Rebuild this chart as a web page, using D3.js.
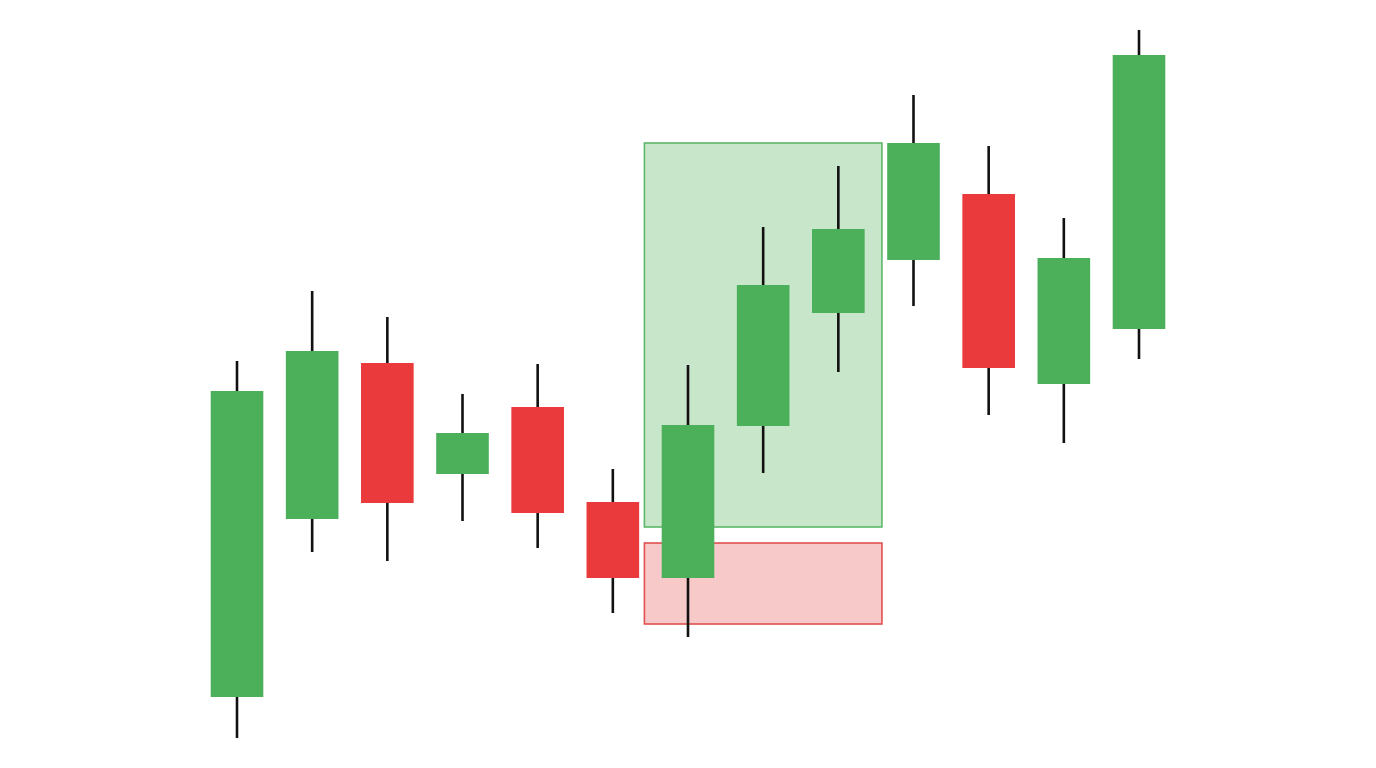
<!DOCTYPE html>
<html>
<head>
<meta charset="utf-8">
<script src="https://cdn.jsdelivr.net/npm/d3@7"></script>
<style>
  html, body { margin: 0; padding: 0; background: #fff; }
  svg { display: block; }
</style>
</head>
<body>
<svg id="chart"></svg>
<script>
// candle data
const bars = ['1', '2', '3', '4', '5', '6', '7', '8', '9', '10', '11', '12', '13']
const opens  = [107.1, 124.9, 140.5, 129.4, 136.1, 126.6, 119.0, 134.2, 145.5, 150.8, 157.4, 138.4, 143.9]
const highs  = [140.7, 147.7, 145.1, 137.4, 140.4, 129.9, 140.3, 154.1, 160.2, 167.3, 162.2, 155.0, 173.8]
const lows   = [103.0, 121.6, 120.7, 124.7, 122.0, 115.5, 113.1, 129.5, 139.6, 146.2, 135.3, 132.5, 140.9]
const closes = [137.7, 141.7, 126.5, 133.5, 125.5, 119.0, 134.3, 148.3, 153.9, 162.5, 140.0, 151.0, 171.3]

// highlighted zones: first / last candle covered, price top / bottom
const zoneFrom = ['7', '7']
const zoneTo   = ['9', '9']
const zoneTop  = [162.5, 122.5]
const zoneBot  = [124.1, 114.4]
const zoneKind = ['up', 'down']

const width = 1376
const height = 768

const data = bars.map((b, i) => ({
  bar: b, open: opens[i], high: highs[i], low: lows[i], close: closes[i]
}))
const zones = zoneFrom.map((f, i) => ({
  from: f, to: zoneTo[i], top: zoneTop[i], bottom: zoneBot[i], kind: zoneKind[i]
}))

const svg = d3.select('#chart')
  .attr('width', width)
  .attr('height', height)

const x = d3.scalePoint().domain(bars).range([237, 1139])
const y = d3.scaleLinear().domain([100, 176.8]).range([height, 0])

const step = x.step()
const bodyW = step * 0.7
const zonePad = step * 0.58

const UP = '#4caf5a'
const DOWN = '#ea3a3c'

// zones go behind the candles
svg.append('g').selectAll('rect')
  .data(zones)
  .join('rect')
    .attr('x', d => x(d.from) - zonePad)
    .attr('y', d => y(d.top))
    .attr('width', d => x(d.to) - x(d.from) + zonePad * 2)
    .attr('height', d => y(d.bottom) - y(d.top))
    .attr('fill', d => d.kind === 'up' ? '#c8e6ca' : '#f8c9c9')
    .attr('stroke', d => d.kind === 'up' ? '#5cb868' : '#e0504f')
    .attr('stroke-width', 1.6)

const candle = svg.append('g').selectAll('g')
  .data(data)
  .join('g')

candle.append('line')
  .attr('x1', d => x(d.bar))
  .attr('x2', d => x(d.bar))
  .attr('y1', d => y(d.high))
  .attr('y2', d => y(d.low))
  .attr('stroke', '#111')
  .attr('stroke-width', 2.6)

candle.append('rect')
  .attr('x', d => x(d.bar) - bodyW / 2)
  .attr('y', d => y(Math.max(d.open, d.close)))
  .attr('width', bodyW)
  .attr('height', d => Math.abs(y(d.open) - y(d.close)))
  .attr('fill', d => d.close >= d.open ? UP : DOWN)
</script>
</body>
</html>
